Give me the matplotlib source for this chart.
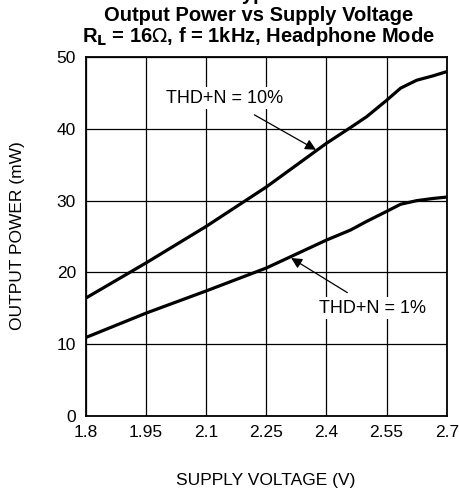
import matplotlib
matplotlib.use('Agg')
import matplotlib.pyplot as plt

plt.rcParams['font.family'] = ['Liberation Sans', 'DejaVu Sans']

# supply voltage (V)
voltage = [1.8, 1.95, 2.1, 2.25, 2.4, 2.46, 2.5, 2.55, 2.585, 2.625, 2.665, 2.7]
# output power (mW)
thd_10 = [16.4, 21.3, 26.4, 31.9, 38.0, 40.2, 41.7, 44.0, 45.7, 46.8, 47.4, 48.0]
thd_1 = [10.9, 14.3, 17.4, 20.6, 24.5, 25.9, 27.1, 28.5, 29.5, 30.0, 30.3, 30.5]

xticks = [1.8, 1.95, 2.1, 2.25, 2.4, 2.55, 2.7]
xticklabels = ['1.8', '1.95', '2.1', '2.25', '2.4', '2.55', '2.7']
yticks = [0, 10, 20, 30, 40, 50]

fig = plt.figure(figsize=(4.6, 4.93), dpi=100)
ax = fig.add_axes([0.1863, 0.1568, 0.785, 0.727])

ax.plot(voltage, thd_10, color='black', lw=2.3, solid_joinstyle='round', zorder=3)
ax.plot(voltage, thd_1, color='black', lw=2.3, solid_joinstyle='round', zorder=3)

ax.set_xlim(1.8, 2.7)
ax.set_ylim(0, 50)
ax.set_xticks(xticks)
ax.set_xticklabels(xticklabels)
ax.set_yticks(yticks)
ax.tick_params(length=0, labelsize=12.5, pad=7)
ax.grid(True, color='black', lw=0.9)
for s in ax.spines.values():
    s.set_linewidth(1.3)

ax.annotate('THD+N = 10%', xy=(2.374, 37.1), xytext=(2.147, 44.3),
            fontsize=13, ha='center', va='center', zorder=4,
            bbox=dict(boxstyle='square,pad=0.15', fc='white', ec='none'),
            arrowprops=dict(arrowstyle='-|>', color='black', lw=0.9,
                            mutation_scale=16, shrinkA=8, shrinkB=0))
ax.annotate('THD+N = 1%', xy=(2.312, 22.0), xytext=(2.515, 15.0),
            fontsize=13, ha='center', va='center', zorder=4,
            bbox=dict(boxstyle='square,pad=0.15', fc='white', ec='none'),
            arrowprops=dict(arrowstyle='-|>', color='black', lw=0.9,
                            mutation_scale=16, shrinkA=6, shrinkB=0))

# top heading line is cut off by the image edge in the reference
fig.text(0.577, 1 + 0.5 / 493, 'Typical', fontsize=14.5, fontweight='bold',
         ha='center', va='baseline')
fig.text(0.562, 1 - 21 / 493, 'Output Power vs Supply Voltage', fontsize=14.5,
         fontweight='bold', ha='center', va='baseline')
fig.text(0.562, 1 - 41.5 / 493, r'R$_\mathbf{L}$ = 16$\Omega$, f = 1kHz, Headphone Mode',
         fontsize=14.5, fontweight='bold', ha='center', va='baseline')

fig.text(18 / 460, 1 - 236 / 493, 'OUTPUT POWER (mW)', fontsize=12.5,
         rotation=90, ha='center', va='center')
fig.text(266 / 460, 1 - 480 / 493, 'SUPPLY VOLTAGE (V)', fontsize=12.5,
         ha='center', va='center')

fig.savefig('out.png', dpi=100)
